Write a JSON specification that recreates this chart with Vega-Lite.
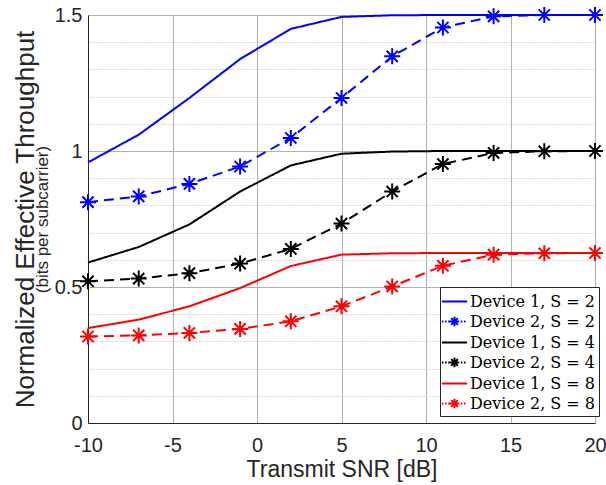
{
  "$schema": "https://vega.github.io/schema/vega-lite/v6.json",
  "width": 507,
  "height": 408,
  "autosize": {"type": "none"},
  "padding": {"left": 88, "top": 15, "right": 11, "bottom": 62},
  "config": {
    "view": {"stroke": "#262626", "strokeWidth": 1},
    "font": "Liberation Sans",
    "axis": {"labelColor": "#262626", "titleColor": "#262626", "domainColor": "#262626", "labelFontSize": 20, "titleFontWeight": "normal", "labelFlush": false}
  },
  "data": {"values": [
    {"snr": -10, "thr": 0.958, "series": "Device 1, S = 2", "device": "D1"},
    {"snr": -7, "thr": 1.06, "series": "Device 1, S = 2", "device": "D1"},
    {"snr": -4, "thr": 1.195, "series": "Device 1, S = 2", "device": "D1"},
    {"snr": -1, "thr": 1.338, "series": "Device 1, S = 2", "device": "D1"},
    {"snr": 2, "thr": 1.449, "series": "Device 1, S = 2", "device": "D1"},
    {"snr": 5, "thr": 1.493, "series": "Device 1, S = 2", "device": "D1"},
    {"snr": 8, "thr": 1.499, "series": "Device 1, S = 2", "device": "D1"},
    {"snr": 11, "thr": 1.5, "series": "Device 1, S = 2", "device": "D1"},
    {"snr": 14, "thr": 1.5, "series": "Device 1, S = 2", "device": "D1"},
    {"snr": 17, "thr": 1.5, "series": "Device 1, S = 2", "device": "D1"},
    {"snr": 20, "thr": 1.5, "series": "Device 1, S = 2", "device": "D1"},
    {"snr": -10, "thr": 0.812, "series": "Device 2, S = 2", "device": "D2"},
    {"snr": -7, "thr": 0.833, "series": "Device 2, S = 2", "device": "D2"},
    {"snr": -4, "thr": 0.879, "series": "Device 2, S = 2", "device": "D2"},
    {"snr": -1, "thr": 0.943, "series": "Device 2, S = 2", "device": "D2"},
    {"snr": 2, "thr": 1.048, "series": "Device 2, S = 2", "device": "D2"},
    {"snr": 5, "thr": 1.195, "series": "Device 2, S = 2", "device": "D2"},
    {"snr": 8, "thr": 1.348, "series": "Device 2, S = 2", "device": "D2"},
    {"snr": 11, "thr": 1.454, "series": "Device 2, S = 2", "device": "D2"},
    {"snr": 14, "thr": 1.495, "series": "Device 2, S = 2", "device": "D2"},
    {"snr": 17, "thr": 1.5, "series": "Device 2, S = 2", "device": "D2"},
    {"snr": 20, "thr": 1.5, "series": "Device 2, S = 2", "device": "D2"},
    {"snr": -10, "thr": 0.59, "series": "Device 1, S = 4", "device": "D1"},
    {"snr": -7, "thr": 0.647, "series": "Device 1, S = 4", "device": "D1"},
    {"snr": -4, "thr": 0.73, "series": "Device 1, S = 4", "device": "D1"},
    {"snr": -1, "thr": 0.851, "series": "Device 1, S = 4", "device": "D1"},
    {"snr": 2, "thr": 0.947, "series": "Device 1, S = 4", "device": "D1"},
    {"snr": 5, "thr": 0.99, "series": "Device 1, S = 4", "device": "D1"},
    {"snr": 8, "thr": 0.998, "series": "Device 1, S = 4", "device": "D1"},
    {"snr": 11, "thr": 1.0, "series": "Device 1, S = 4", "device": "D1"},
    {"snr": 14, "thr": 1.0, "series": "Device 1, S = 4", "device": "D1"},
    {"snr": 17, "thr": 1.0, "series": "Device 1, S = 4", "device": "D1"},
    {"snr": 20, "thr": 1.0, "series": "Device 1, S = 4", "device": "D1"},
    {"snr": -10, "thr": 0.521, "series": "Device 2, S = 4", "device": "D2"},
    {"snr": -7, "thr": 0.531, "series": "Device 2, S = 4", "device": "D2"},
    {"snr": -4, "thr": 0.551, "series": "Device 2, S = 4", "device": "D2"},
    {"snr": -1, "thr": 0.586, "series": "Device 2, S = 4", "device": "D2"},
    {"snr": 2, "thr": 0.64, "series": "Device 2, S = 4", "device": "D2"},
    {"snr": 5, "thr": 0.733, "series": "Device 2, S = 4", "device": "D2"},
    {"snr": 8, "thr": 0.851, "series": "Device 2, S = 4", "device": "D2"},
    {"snr": 11, "thr": 0.952, "series": "Device 2, S = 4", "device": "D2"},
    {"snr": 14, "thr": 0.993, "series": "Device 2, S = 4", "device": "D2"},
    {"snr": 17, "thr": 0.999, "series": "Device 2, S = 4", "device": "D2"},
    {"snr": 20, "thr": 1.0, "series": "Device 2, S = 4", "device": "D2"},
    {"snr": -10, "thr": 0.349, "series": "Device 1, S = 8", "device": "D1"},
    {"snr": -7, "thr": 0.38, "series": "Device 1, S = 8", "device": "D1"},
    {"snr": -4, "thr": 0.429, "series": "Device 1, S = 8", "device": "D1"},
    {"snr": -1, "thr": 0.496, "series": "Device 1, S = 8", "device": "D1"},
    {"snr": 2, "thr": 0.577, "series": "Device 1, S = 8", "device": "D1"},
    {"snr": 5, "thr": 0.619, "series": "Device 1, S = 8", "device": "D1"},
    {"snr": 8, "thr": 0.624, "series": "Device 1, S = 8", "device": "D1"},
    {"snr": 11, "thr": 0.625, "series": "Device 1, S = 8", "device": "D1"},
    {"snr": 14, "thr": 0.625, "series": "Device 1, S = 8", "device": "D1"},
    {"snr": 17, "thr": 0.625, "series": "Device 1, S = 8", "device": "D1"},
    {"snr": 20, "thr": 0.625, "series": "Device 1, S = 8", "device": "D1"},
    {"snr": -10, "thr": 0.318, "series": "Device 2, S = 8", "device": "D2"},
    {"snr": -7, "thr": 0.322, "series": "Device 2, S = 8", "device": "D2"},
    {"snr": -4, "thr": 0.331, "series": "Device 2, S = 8", "device": "D2"},
    {"snr": -1, "thr": 0.346, "series": "Device 2, S = 8", "device": "D2"},
    {"snr": 2, "thr": 0.374, "series": "Device 2, S = 8", "device": "D2"},
    {"snr": 5, "thr": 0.429, "series": "Device 2, S = 8", "device": "D2"},
    {"snr": 8, "thr": 0.502, "series": "Device 2, S = 8", "device": "D2"},
    {"snr": 11, "thr": 0.578, "series": "Device 2, S = 8", "device": "D2"},
    {"snr": 14, "thr": 0.619, "series": "Device 2, S = 8", "device": "D2"},
    {"snr": 17, "thr": 0.624, "series": "Device 2, S = 8", "device": "D2"},
    {"snr": 20, "thr": 0.625, "series": "Device 2, S = 8", "device": "D2"}
  ]},
  "layer": [
    {
      "mark": {"type": "point", "opacity": 0},
      "encoding": {
        "y": {"field": "thr", "type": "quantitative", "scale": {"domain": [0, 1.5], "nice": false},
          "axis": {"orient": "right", "grid": true, "gridDash": [1, 2], "gridColor": "#b8b8b8", "gridWidth": 1,
            "values": [0.1, 0.2, 0.3, 0.4, 0.6, 0.7, 0.8, 0.9, 1.1, 1.2, 1.3, 1.4],
            "labels": false, "ticks": false, "domain": false, "title": null}}
      }
    },
    {
      "layer": [
        {
          "mark": {"type": "line", "strokeWidth": 2},
          "encoding": {
            "strokeDash": {"field": "device", "type": "nominal", "scale": {"domain": ["D1", "D2"], "range": [[1, 0], [10, 6]]}, "legend": null}
          }
        },
        {
          "transform": [{"filter": "datum.device === 'D2'"}],
          "mark": {"type": "point", "filled": false, "strokeWidth": 2, "size": 256, "opacity": 1,
            "shape": "M0,-1V1M-1,0H1M-0.7,-0.7L0.7,0.7M-0.7,0.7L0.7,-0.7"}
        }
      ],
      "encoding": {
        "x": {"field": "snr", "type": "quantitative", "scale": {"domain": [-10, 20], "nice": false},
          "axis": {"values": [-10, -5, 0, 5, 10, 15, 20], "grid": true, "gridColor": "#b0b0b0", "ticks": false,
            "labelExpr": "'' + datum.value", "labelPadding": 12, "title": "Transmit SNR [dB]", "titleFontSize": 23,
            "titleY": 53, "titleBaseline": "alphabetic"}},
        "y": {"field": "thr", "type": "quantitative", "scale": {"domain": [0, 1.5], "nice": false},
          "axis": {"values": [0, 0.5, 1, 1.5], "format": "~g", "grid": true, "gridColor": "#b0b0b0", "ticks": false,
            "labelPadding": 6, "title": "(bits per subcarrier)", "titleFontSize": 17, "titleX": -41, "titleBaseline": "alphabetic"}},
        "color": {"field": "series", "type": "nominal",
          "scale": {"domain": ["Device 1, S = 2", "Device 2, S = 2", "Device 1, S = 4", "Device 2, S = 4", "Device 1, S = 8", "Device 2, S = 8"],
            "range": ["#0000ff", "#0000ff", "#000000", "#000000", "#ff0000", "#ff0000"]},
          "legend": {"orient": "none", "legendX": 352, "legendY": 272, "title": null,
            "strokeColor": "#262626", "fillColor": "white", "padding": 3,
            "labelFont": "DejaVu Serif", "labelFontSize": 16, "labelColor": "#000000",
            "symbolSize": 441, "symbolStrokeWidth": 2, "rowPadding": 0, "labelOffset": 4,
            "encode": {"symbols": {"update": {
              "shape": {"signal": "indexof(datum.value, 'Device 2') >= 0 ? 'M-1.2,0H-1.05M-0.9,0H-0.75M-0.6,0H-0.45M-0.45,0H0.45M0.6,0H0.75M0.9,0H1.05M0,-0.45V0.45M-0.32,-0.32L0.32,0.32M-0.32,0.32L0.32,-0.32' : 'M-1.2,0H1.2'"},
              "strokeDash": {"value": []},
              "fill": {"value": "transparent"},
              "strokeWidth": {"value": 2},
              "opacity": {"value": 1}
            }}}}
        }
      }
    },
    {
      "mark": {"type": "point", "opacity": 0},
      "encoding": {
        "y": {"field": "thr", "type": "quantitative", "scale": {"domain": [0, 1.5], "nice": false},
          "axis": {"orient": "left", "grid": false, "labels": false, "ticks": false, "domain": false,
            "title": "Normalized Effective Throughput", "titleFontSize": 26, "titleX": -55, "titleBaseline": "alphabetic"}}
      }
    }
  ],
  "resolve": {"scale": {"y": "independent"}}
}
